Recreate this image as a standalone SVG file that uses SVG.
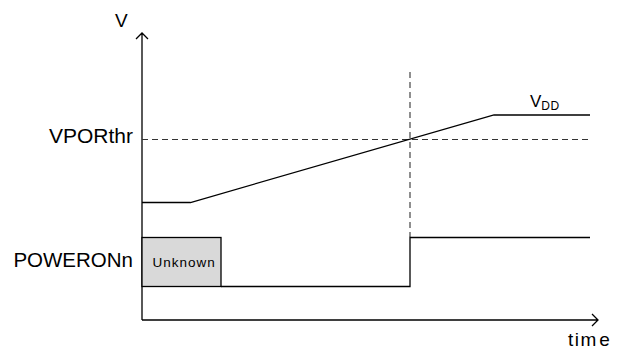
<svg xmlns="http://www.w3.org/2000/svg" width="617" height="349" viewBox="0 0 617 349">
<defs>
<style>
.ln{fill:none;stroke:#000;stroke-width:1.3}
.dash{fill:none;stroke:#333;stroke-width:1.1;stroke-dasharray:6 4}
.lbl{font-family:"Liberation Sans",Arial,sans-serif;fill:#000}
</style>
</defs>
<rect x="0" y="0" width="617" height="349" fill="#fff"/>
<g id="axes">
<path class="ln" d="M142,320 V33 M136,39 L142,33 L148,39"/>
<path class="ln" d="M142,320 H598 M592,314 L598,320 L592,326"/>
<text class="lbl" x="115" y="27" font-size="19">V</text>
<text class="lbl" x="568" y="346" font-size="19">t<tspan dx="1.5">i</tspan><tspan dx="1.5">m</tspan><tspan dx="3">e</tspan></text>
</g>
<g id="threshold">
<path class="dash" d="M142,139.5 H590"/>
<text class="lbl" x="133" y="143" font-size="21" text-anchor="end">VPORthr</text>
</g>
<g id="crossing">
<path class="dash" d="M410,72 V237"/>
</g>
<g id="vdd">
<path class="ln" d="M142,202.5 H190.5 L494,115 H590"/>
<text class="lbl" x="530" y="107" font-size="17">V<tspan font-size="12" dy="2.5" letter-spacing="0.5">DD</tspan></text>
</g>
<g id="poweron">
<rect x="142" y="237.5" width="79" height="49" fill="#d9d9d9" stroke="#000" stroke-width="1.3"/>
<text class="lbl" x="152.5" y="267" font-size="13.5" letter-spacing="1">Unknown</text>
<path class="ln" d="M221,286.5 H410 V237.5 H590"/>
<text class="lbl" x="133" y="267" font-size="20.5" text-anchor="end">POWERONn</text>
</g>
</svg>
